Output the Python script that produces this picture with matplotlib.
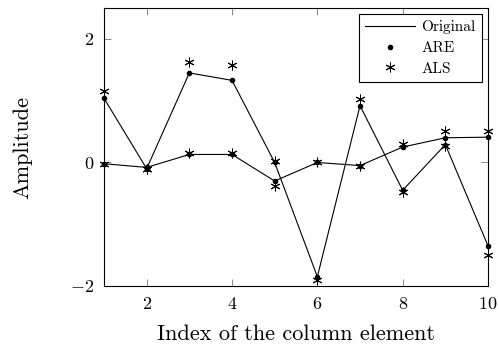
import matplotlib
matplotlib.use("Agg")
import matplotlib.pyplot as plt

plt.rcParams['font.family'] = ['cmr10', 'DejaVu Serif']
plt.rcParams['mathtext.fontset'] = 'cm'
plt.rcParams['axes.formatter.use_mathtext'] = True

idx = [1, 2, 3, 4, 5, 6, 7, 8, 9, 10]

# two columns of the original signal
orig_a = [1.04, -0.10, 1.45, 1.33, 0.00, -1.85, 0.92, -0.45, 0.29, -1.35]
orig_b = [-0.02, -0.08, 0.13, 0.13, -0.30, 0.00, -0.05, 0.25, 0.40, 0.41]

# ARE estimates (dots)
are_a = [1.04, -0.10, 1.45, 1.33, 0.00, -1.85, 0.92, -0.45, 0.29, -1.35]
are_b = [-0.02, -0.08, 0.13, 0.13, -0.30, 0.00, -0.05, 0.25, 0.40, 0.41]

# ALS estimates (asterisks)
als_a = [1.15, -0.10, 1.63, 1.58, 0.02, -1.90, 1.03, -0.48, 0.27, -1.50]
als_b = [-0.02, -0.10, 0.16, 0.16, -0.38, 0.00, -0.05, 0.30, 0.51, 0.51]

fig = plt.figure(figsize=(4.99, 3.52), dpi=100)
ax = fig.add_axes([0.2084, 0.1875, 0.7696, 0.7895])

ax.plot(idx, orig_a, color='black', lw=0.8, label='Original')
ax.plot(idx, orig_b, color='black', lw=0.8)
ax.plot(idx, are_a, 'o', color='black', ms=3, label='ARE', clip_on=False)
ax.plot(idx, are_b, 'o', color='black', ms=3, clip_on=False)
ax.plot(idx, als_a, ls='none', marker=(6, 2, 0), color='black', ms=7, mew=0.7,
        label='ALS', clip_on=False)
ax.plot(idx, als_b, ls='none', marker=(6, 2, 0), color='black', ms=7, mew=0.7,
        clip_on=False)

ax.set_xlim(1, 10)
ax.set_ylim(-2, 2.5)
ax.set_xticks([2, 4, 6, 8, 10])
ax.set_xticklabels(['$2$', '$4$', '$6$', '$8$', '$10$'])
ax.set_yticks([-2, 0, 2])
ax.set_yticklabels(['$-2$', '$0$', '$2$'])
ax.tick_params(direction='in', top=True, right=True, length=5, width=0.6,
               labelsize=13, color='#777777', pad=7)
for s in ax.spines.values():
    s.set_linewidth(0.8)

ax.set_xlabel('Index of the column element', fontsize=16, labelpad=9)
ax.set_ylabel('Amplitude', fontsize=16, labelpad=27)

leg = ax.legend(loc='upper right', fontsize=11, frameon=True, fancybox=False,
                edgecolor='black', framealpha=1, handlelength=3.3,
                borderaxespad=0.4, labelspacing=0.45, handletextpad=0.4)
leg.get_frame().set_linewidth(0.8)

fig.savefig('out.png', dpi=100)
